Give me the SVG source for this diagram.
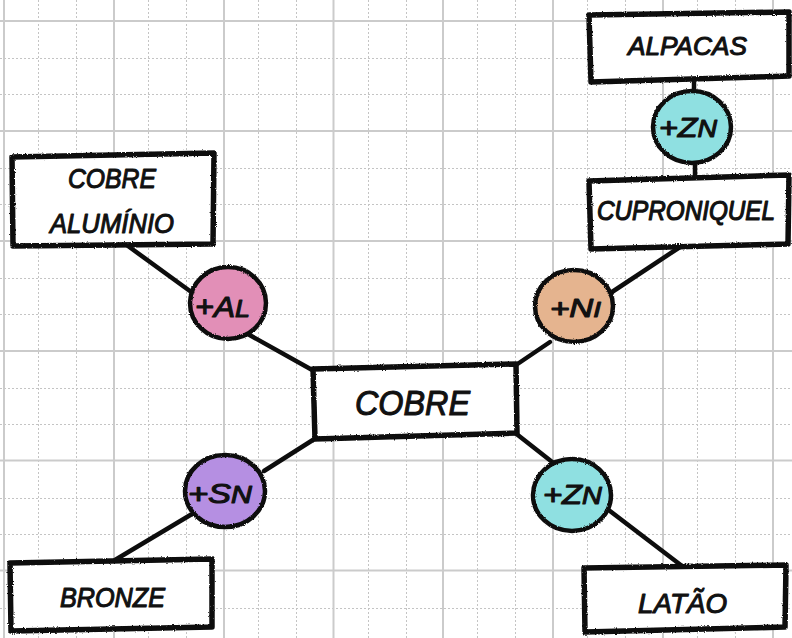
<svg xmlns="http://www.w3.org/2000/svg" width="792" height="638" viewBox="0 0 792 638">
  <style>
    .major { stroke: #cbcbcb; stroke-width: 2; fill: none; }
    .minor { stroke: #c4c4c4; stroke-width: 1; stroke-dasharray: 2 2; fill: none; }
    .box { fill: #ffffff; stroke: #0d0d0d; stroke-width: 5.5; stroke-linejoin: round; filter: url(#rough); }
    .blob { stroke: #0d0d0d; stroke-width: 4.5; filter: url(#rough); }
    .wire { stroke: #0d0d0d; stroke-width: 4.5; stroke-linecap: round; fill: none; }
    .lbl { font-family: "Liberation Sans", "DejaVu Sans", sans-serif; font-style: italic; fill: #111111; stroke: #111111; stroke-width: 1.1; stroke-linejoin: round; text-anchor: middle; }
    .sub { font-size: 84%; text-transform: uppercase; }
    .al { fill: #e28fb7; }
    .ni { fill: #e5b48f; }
    .sn { fill: #b58fe2; }
    .zn { fill: #8fe0e1; }
  </style>
  <defs>
    <filter id="rough" x="-10%" y="-10%" width="120%" height="120%">
      <feTurbulence type="fractalNoise" baseFrequency="0.9" numOctaves="2" seed="3" result="noise"/>
      <feDisplacementMap in="SourceGraphic" in2="noise" scale="2.5" xChannelSelector="R" yChannelSelector="G"/>
    </filter>
  </defs>

  <!-- background paper -->
  <rect x="0" y="0" width="792" height="638" fill="#ffffff"/>

  <!-- squared paper grid -->
  <g id="grid">
    <path class="minor" d="M38.5 0V638M76.5 0V638M148.5 0V638M186.5 0V638M258.5 0V638M296.5 0V638M368.5 0V638M406.5 0V638M477.5 0V638M515.5 0V638M587.5 0V638M625.5 0V638M697.5 0V638M735.5 0V638"/>
    <path class="minor" d="M0 58.5H792M0 94.5H792M0 168.5H792M0 204.5H792M0 278.5H792M0 314.5H792M0 388.5H792M0 424.5H792M0 498.5H792M0 534.5H792M0 608.5H792"/>
    <path class="major" d="M4 0V638M114 0V638M224 0V638M333.5 0V638M443 0V638M553 0V638M663 0V638M773 0V638"/>
    <path class="major" d="M0 21H792M0 131H792M0 241H792M0 351H792M0 460.5H792M0 570.5H792"/>
  </g>

  <!-- connectors -->
  <g id="connectors">
    <line class="wire" x1="128" y1="246" x2="194" y2="294"/>
    <line class="wire" x1="246" y1="333" x2="314" y2="371"/>
    <line class="wire" x1="516" y1="365" x2="550" y2="342"/>
    <line class="wire" x1="612" y1="292" x2="680" y2="247"/>
    <line class="wire" x1="694" y1="80" x2="694" y2="92"/>
    <line class="wire" x1="695" y1="161" x2="695" y2="180"/>
    <line class="wire" x1="316" y1="438" x2="264" y2="471"/>
    <line class="wire" x1="192" y1="514" x2="115" y2="560"/>
    <line class="wire" x1="514" y1="432" x2="556" y2="465"/>
    <line class="wire" x1="606" y1="508" x2="682" y2="566"/>
  </g>

  <!-- material boxes -->
  <g id="cobre">
    <polygon class="box" points="313,369 516,364 517,433 315,439"/>
    <text class="lbl" x="412.5" y="415" font-size="35" textLength="115" lengthAdjust="spacingAndGlyphs">COBRE</text>
  </g>
  <g id="cobre-aluminio">
    <polygon class="box" points="12,157 214,153 213,244 13,246"/>
    <text class="lbl" x="112" y="188" font-size="28" textLength="88" lengthAdjust="spacingAndGlyphs">COBRE</text>
    <text class="lbl" x="112" y="233" font-size="28" textLength="124" lengthAdjust="spacingAndGlyphs">ALUMÍNIO</text>
  </g>
  <g id="alpacas">
    <polygon class="box" points="589,15 789,12 789,76 591,82"/>
    <text class="lbl" x="687.5" y="55" font-size="26" textLength="119" lengthAdjust="spacingAndGlyphs">ALPACAS</text>
  </g>
  <g id="cuproniquel">
    <polygon class="box" points="589,181 789,175 788,244 591,249"/>
    <text class="lbl" transform="translate(686,220) scale(1,1.12)" x="0" y="0" font-size="24.5" textLength="178" lengthAdjust="spacingAndGlyphs">CUPRONIQUEL</text>
  </g>
  <g id="bronze">
    <polygon class="box" points="10,563 212,559 212,627 11,631"/>
    <text class="lbl" x="112.5" y="607" font-size="27" textLength="105" lengthAdjust="spacingAndGlyphs">BRONZE</text>
  </g>
  <g id="latao">
    <polygon class="box" points="584,568 786,565 785,627 585,632"/>
    <text class="lbl" x="682.5" y="613" font-size="28" textLength="89" lengthAdjust="spacingAndGlyphs">LATÃO</text>
  </g>

  <!-- alloying elements -->
  <g id="add-al">
    <ellipse class="blob al" cx="228" cy="303" rx="38" ry="36"/>
    <text class="lbl" x="222.5" y="317" font-size="29" textLength="55" lengthAdjust="spacingAndGlyphs">+A<tspan class="sub">l</tspan></text>
  </g>
  <g id="add-ni">
    <ellipse class="blob ni" cx="574" cy="306" rx="39" ry="36"/>
    <text class="lbl" x="575.5" y="317" font-size="26" textLength="51" lengthAdjust="spacingAndGlyphs">+N<tspan class="sub">i</tspan></text>
  </g>
  <g id="add-zn-top">
    <ellipse class="blob zn" cx="692" cy="127" rx="39" ry="36"/>
    <text class="lbl" x="688" y="137" font-size="28" textLength="58" lengthAdjust="spacingAndGlyphs">+Z<tspan class="sub">n</tspan></text>
  </g>
  <g id="add-sn">
    <ellipse class="blob sn" cx="225" cy="491" rx="40" ry="36"/>
    <text class="lbl" x="220" y="503" font-size="28" textLength="64" lengthAdjust="spacingAndGlyphs">+S<tspan class="sub">n</tspan></text>
  </g>
  <g id="add-zn-bottom">
    <ellipse class="blob zn" cx="572" cy="495" rx="39" ry="36"/>
    <text class="lbl" x="572.5" y="504" font-size="28" textLength="59" lengthAdjust="spacingAndGlyphs">+Z<tspan class="sub">n</tspan></text>
  </g>
</svg>
